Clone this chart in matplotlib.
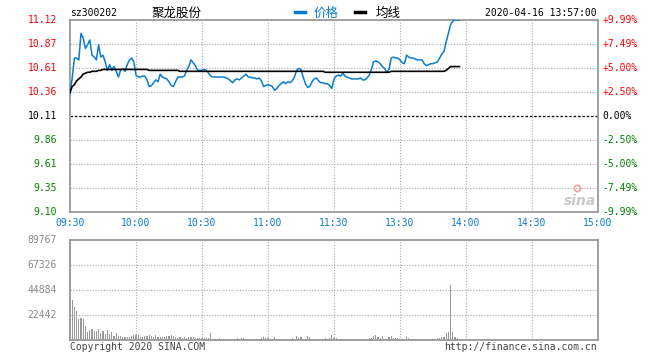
import numpy as np
import matplotlib
matplotlib.use("Agg")
import matplotlib.pyplot as plt
from matplotlib.lines import Line2D

plt.rcParams['font.family'] = ['DejaVu Sans Mono', 'Noto Sans CJK SC']

# ---------------- data ----------------
code = "sz300202"
name = "聚龙股份"
stamp = "2020-04-16 13:57:00"
prev_close = 10.11

price_labels = ["9.10", "9.35", "9.61", "9.86", "10.11", "10.36", "10.61", "10.87", "11.12"]
pct_labels = ["-9.99%", "-7.49%", "-5.00%", "-2.50%", "0.00%", "+2.50%", "+5.00%", "+7.49%", "+9.99%"]
vol_labels = ["22442", "44884", "67326", "89767"]
vol_ticks = [22442, 44884, 67326, 89767]
time_labels = ["09:30", "10:00", "10:30", "11:00", "11:30", "13:30", "14:00", "14:30", "15:00"]
time_ticks = [0, 30, 60, 90, 120, 150, 180, 210, 240]

# minute-by-minute price (09:30 .. 11:30, 13:00 .. 13:57)
price = [
    10.34, 10.51, 10.72, 10.72, 10.70, 10.98, 10.93, 10.82, 10.86, 10.91,
    10.75, 10.73, 10.70, 10.86, 10.73, 10.75, 10.68, 10.59, 10.65, 10.59,
    10.63, 10.58, 10.52, 10.59, 10.61, 10.58, 10.65, 10.70, 10.72, 10.68,
    10.54, 10.52, 10.52, 10.53, 10.53, 10.49, 10.42, 10.43, 10.46, 10.49,
    10.47, 10.55, 10.52, 10.51, 10.50, 10.47, 10.43, 10.42, 10.47, 10.52,
    10.52, 10.52, 10.53, 10.59, 10.63, 10.70, 10.67, 10.64, 10.59, 10.59,
    10.59, 10.60, 10.59, 10.56, 10.53, 10.52, 10.52, 10.52, 10.52, 10.52,
    10.52, 10.51, 10.50, 10.48, 10.46, 10.49, 10.50, 10.49, 10.51, 10.53,
    10.55, 10.52, 10.52, 10.51, 10.51, 10.50, 10.51, 10.48, 10.42, 10.43,
    10.44, 10.43, 10.42, 10.38, 10.40, 10.43, 10.45, 10.47, 10.45, 10.47,
    10.46, 10.48, 10.52, 10.59, 10.61, 10.60, 10.52, 10.45, 10.41, 10.42,
    10.47, 10.50, 10.51, 10.48, 10.46, 10.46, 10.45, 10.45, 10.43, 10.40,
    10.50, 10.53, 10.54, 10.53, 10.56, 10.53, 10.52, 10.51, 10.50, 10.50,
    10.50, 10.50, 10.51, 10.49, 10.49, 10.51, 10.54, 10.60, 10.68, 10.69,
    10.68, 10.66, 10.63, 10.61, 10.57, 10.60, 10.72, 10.73, 10.72, 10.72,
    10.70, 10.67, 10.66, 10.75, 10.73, 10.72, 10.72, 10.71, 10.70, 10.70,
    10.70, 10.66, 10.64, 10.65, 10.66, 10.66, 10.67, 10.68, 10.72, 10.76,
    10.79, 10.89, 10.98, 11.07, 11.11, 11.12, 11.12, 11.12,
]

avg_price = [
    10.36, 10.42, 10.44, 10.48, 10.50, 10.52, 10.55, 10.56, 10.57, 10.57,
    10.58, 10.58, 10.58, 10.59, 10.59, 10.60, 10.60, 10.60, 10.60, 10.60,
    10.60, 10.60, 10.60, 10.60, 10.60, 10.60, 10.60, 10.60, 10.60, 10.60,
    10.60, 10.60, 10.60, 10.60, 10.60, 10.60, 10.59, 10.59, 10.59, 10.59,
    10.59, 10.59, 10.59, 10.59, 10.59, 10.59, 10.59, 10.59, 10.59, 10.59,
    10.58, 10.58, 10.58, 10.58, 10.58, 10.58, 10.58, 10.58, 10.58, 10.58,
    10.58, 10.58, 10.58, 10.58, 10.58, 10.58, 10.58, 10.58, 10.58, 10.58,
    10.58, 10.58, 10.58, 10.58, 10.58, 10.58, 10.58, 10.58, 10.58, 10.58,
    10.58, 10.58, 10.58, 10.58, 10.58, 10.58, 10.58, 10.58, 10.58, 10.58,
    10.58, 10.58, 10.58, 10.58, 10.58, 10.58, 10.58, 10.58, 10.58, 10.58,
    10.58, 10.58, 10.58, 10.58, 10.58, 10.58, 10.58, 10.58, 10.58, 10.58,
    10.58, 10.58, 10.58, 10.58, 10.58, 10.58, 10.57, 10.57, 10.57, 10.57,
    10.57, 10.57, 10.57, 10.57, 10.57, 10.57, 10.57, 10.57, 10.57, 10.57,
    10.57, 10.57, 10.57, 10.57, 10.57, 10.57, 10.57, 10.57, 10.57, 10.57,
    10.57, 10.57, 10.57, 10.57, 10.57, 10.57, 10.58, 10.58, 10.58, 10.58,
    10.58, 10.58, 10.58, 10.58, 10.58, 10.58, 10.58, 10.58, 10.58, 10.58,
    10.58, 10.58, 10.58, 10.58, 10.58, 10.58, 10.58, 10.58, 10.58, 10.58,
    10.58, 10.59, 10.61, 10.63, 10.63, 10.63, 10.63, 10.63,
]

volume = [
    89767, 35900, 29900, 26000, 18600, 20000, 18800, 12600, 7500, 9000,
    9900, 8100, 8100, 9900, 6300, 8400, 5400, 9000, 5100, 7500,
    3600, 6000, 3600, 3600, 3000, 3000, 2400, 3000, 3600, 4200,
    4800, 4500, 3000, 3000, 3600, 3900, 4500, 3600, 3000, 4200,
    3000, 2400, 2700, 3000, 3600, 3600, 4200, 3600, 2400, 1500,
    2400, 2100, 2400, 2100, 3000, 2400, 2400, 1500, 1800, 1500,
    1500, 1500, 1800, 1500, 6600, 1000, 1100, 1300, 1800, 1100,
    1000, 1200, 1100, 1000, 1200, 1100, 1400, 1300, 1800, 1500,
    1100, 1000, 1100, 1200, 1000, 1100, 1300, 1400, 3000, 1500,
    1600, 1100, 1000, 3000, 1200, 1300, 1100, 1200, 1000, 1300,
    1200, 1600, 1300, 3600, 1600, 3000, 1300, 1200, 3600, 2700,
    1300, 1200, 1100, 1200, 1300, 1300, 1700, 1200, 1600, 4500,
    1400, 2100, 1300, 1000, 1100, 1000, 1100, 1000, 1100, 1000,
    1100, 1000, 1100, 1000, 1100, 1300, 1400, 1800, 3600, 4500,
    3000, 2100, 3600, 1100, 1300, 2400, 3600, 2100, 1700, 2100,
    1200, 1100, 1300, 3000, 1800, 1200, 1000, 1100, 1000, 1100,
    1000, 1100, 1000, 1100, 1000, 1100, 1200, 1400, 1800, 3000,
    3000, 6000, 7500, 49400, 7500, 3000, 2100, 1000,
]

# ---------------- style ----------------
RED = "#ff0000"
GREEN = "#008000"
BLUE = "#0a7ccc"
GRID = "#aaaaaa"
SPINE = "#999999"
W, H = 660, 360

def fx(px):
    return px / W

def fy(py):
    return 1 - py / H

fig = plt.figure(figsize=(6.6, 3.6), dpi=100)
fig.patch.set_facecolor("white")

ax = fig.add_axes([fx(70), fy(212), fx(598) - fx(70), fy(20) - fy(212)])
axv = fig.add_axes([fx(70), fy(340), fx(598) - fx(70), fy(240) - fy(340)])

lo, hi = 9.10, 11.12
ypos = np.linspace(lo, hi, len(price_labels))

minutes = np.arange(len(price))

for a in (ax, axv):
    a.set_xlim(0, 240)
    for s in a.spines.values():
        s.set_color(SPINE)
        s.set_linewidth(1.3)
    a.tick_params(length=0, labelleft=False, labelbottom=False)
    a.set_xticks([])
    a.set_yticks([])
    for t in time_ticks[1:-1]:
        a.axvline(t, color=GRID, lw=0.8, ls=(0, (1, 1.5)), zorder=0)

ax.set_ylim(lo, hi)
for i, yv in enumerate(ypos):
    if i in (0, len(ypos) - 1):
        continue
    if price_labels[i] == "10.11":
        ax.axhline(yv, color="black", lw=0.9, ls=(0, (2, 1.5)), zorder=1)
    else:
        ax.axhline(yv, color=GRID, lw=0.8, ls=(0, (1, 1.5)), zorder=0)

ax.plot(minutes, price, color=BLUE, lw=1.1, zorder=3)
ax.plot(minutes, avg_price, color="black", lw=1.2, zorder=3)

# price labels
for i, yv in enumerate(ypos):
    lab = price_labels[i]
    if lab == "10.11":
        c = "black"
    elif i > 4:
        c = RED
    else:
        c = GREEN
    ax.text(-0.025, yv, lab, transform=ax.get_yaxis_transform(), ha="right",
            va="center", fontsize=7, color=c)
    pl = pct_labels[i]
    c2 = "black" if pl == "0.00%" else (RED if i > 4 else GREEN)
    ax.text(1.008, yv, pl, transform=ax.get_yaxis_transform(), ha="left",
            va="center", fontsize=7, color=c2)

# time labels
for t, lab in zip(time_ticks, time_labels):
    ax.text(t, -0.058, lab, transform=ax.get_xaxis_transform(), ha="center",
            va="center", fontsize=7, color=BLUE)

# volume
axv.set_ylim(0, 89767)
axv.bar(minutes, volume, width=0.5, color="#999999", linewidth=0, zorder=2)
for v in vol_ticks[:-1]:
    axv.axhline(v, color=GRID, lw=0.8, ls=(0, (1, 1.5)), zorder=0)
for v, lab in zip(vol_ticks, vol_labels):
    axv.text(-0.025, v, lab, transform=axv.get_yaxis_transform(), ha="right",
             va="center", fontsize=7, color="#888888")

# header
fig.text(fx(70), fy(13), code, ha="left", va="center", fontsize=7, color="black")
fig.text(fx(152), fy(13), name, ha="left", va="center", fontsize=9,
         color="black", family=["Noto Sans CJK SC", "DejaVu Sans"])
fig.add_artist(Line2D([fx(295), fx(305)], [fy(12), fy(12)], color=BLUE, lw=2.5))
fig.text(fx(314), fy(13), "价格", ha="left", va="center", fontsize=9,
         color=BLUE, family=["Noto Sans CJK SC", "DejaVu Sans"])
fig.add_artist(Line2D([fx(355), fx(365)], [fy(12), fy(12)], color="black", lw=2.5))
fig.text(fx(376), fy(13), "均线", ha="left", va="center", fontsize=9,
         color="black", family=["Noto Sans CJK SC", "DejaVu Sans"])
fig.text(fx(597), fy(13), stamp, ha="right", va="center", fontsize=7, color="black")

# footer
fig.text(fx(70), fy(347), "Copyright 2020 SINA.COM", ha="left", va="center",
         fontsize=7, color="#444444")
fig.text(fx(597), fy(347), "http://finance.sina.com.cn", ha="right",
         va="center", fontsize=7, color="#444444")

# sina watermark (logo eye drawn as a marker, word as text)
fig.add_artist(Line2D([fx(577)], [fy(188)], marker="o", markersize=4.5,
                      markerfacecolor="none", markeredgecolor="#f0a0a0",
                      markeredgewidth=1.2, linestyle="none"))
fig.text(fx(580), fy(201), "sina", ha="center", va="center", fontsize=10,
         fontweight="bold", style="italic", color="#c8c8c8", family="DejaVu Sans")

fig.savefig("out.png", dpi=100)
